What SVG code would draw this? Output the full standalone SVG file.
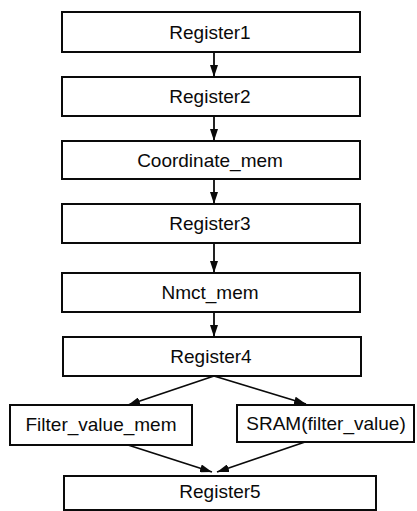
<svg xmlns="http://www.w3.org/2000/svg" width="417" height="511" viewBox="0 0 417 511">
  <style>
    .box { fill: #ffffff; stroke: #0a0a0a; stroke-width: 2; }
    .lbl { font-family: "Liberation Sans", Arial, sans-serif; font-size: 19px; fill: #0a0a0a; text-anchor: middle; }
    .edge { fill: none; stroke: #0a0a0a; stroke-width: 1.8; marker-end: url(#head); }
  </style>
  <defs>
    <marker id="head" viewBox="0 0 12 8" refX="12" refY="4" markerWidth="12" markerHeight="8" markerUnits="userSpaceOnUse" orient="auto">
      <path d="M0,0 L12,4 L0,8 Z" fill="#0a0a0a"/>
    </marker>
  </defs>
  <rect width="417" height="511" fill="#ffffff"/>

  <g id="register1">
    <rect class="box" x="62" y="12" width="298" height="40"/>
    <text class="lbl" x="210" y="38.5">Register1</text>
  </g>
  <g id="register2">
    <rect class="box" x="62" y="77" width="298" height="39"/>
    <text class="lbl" x="210" y="102.5">Register2</text>
  </g>
  <g id="coordinate_mem">
    <rect class="box" x="62" y="141" width="298" height="38"/>
    <text class="lbl" x="210" y="166.5">Coordinate_mem</text>
  </g>
  <g id="register3">
    <rect class="box" x="62" y="204" width="298" height="39"/>
    <text class="lbl" x="210" y="229.5">Register3</text>
  </g>
  <g id="nmct_mem">
    <rect class="box" x="62" y="273" width="298" height="39"/>
    <text class="lbl" x="210" y="298.5">Nmct_mem</text>
  </g>
  <g id="register4">
    <rect class="box" x="63" y="337" width="298" height="39"/>
    <text class="lbl" x="211" y="362.5">Register4</text>
  </g>
  <g id="filter_value_mem">
    <rect class="box" x="10" y="405" width="182" height="40"/>
    <text class="lbl" x="101" y="431">Filter_value_mem</text>
  </g>
  <g id="sram_filter_value">
    <rect class="box" x="237" y="405" width="177" height="37"/>
    <text class="lbl" x="326" y="430">SRAM(filter_value)</text>
  </g>
  <g id="register5">
    <rect class="box" x="64" y="476" width="312" height="34"/>
    <text class="lbl" x="220" y="498">Register5</text>
  </g>

  <g id="connectors">
    <line class="edge" x1="214" y1="52" x2="214" y2="77"/>
    <line class="edge" x1="214" y1="116" x2="214" y2="141"/>
    <line class="edge" x1="214" y1="179" x2="214" y2="204"/>
    <line class="edge" x1="214" y1="243" x2="214" y2="273"/>
    <line class="edge" x1="214" y1="312" x2="214" y2="337"/>
    <line class="edge" x1="214" y1="376" x2="128" y2="405"/>
    <line class="edge" x1="214" y1="376" x2="306" y2="404"/>
    <line class="edge" x1="128" y1="445" x2="212" y2="472"/>
    <line class="edge" x1="305" y1="442" x2="217" y2="472"/>
  </g>
</svg>
